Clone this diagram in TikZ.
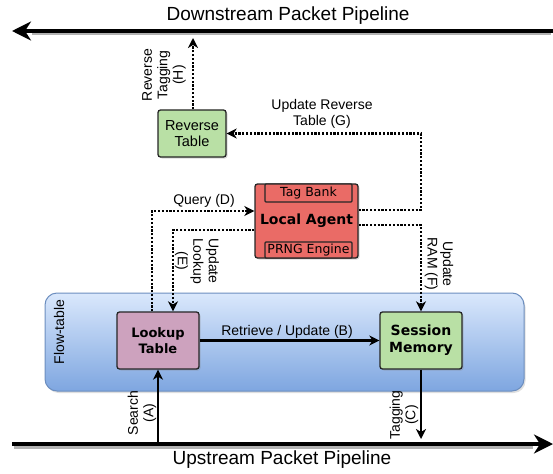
\documentclass[tikz,border=0pt]{standalone}
\usepackage{fontspec}
\setmainfont{Liberation Sans}
\newfontfamily\djv{DejaVu Sans}
\usetikzlibrary{arrows.meta,shadows,calc}
\definecolor{gfill}{HTML}{B9E0A5}
\definecolor{rfill}{HTML}{EA6B66}
\definecolor{pfill}{HTML}{CDA2BE}
\definecolor{btop}{HTML}{DAE8FC}
\definecolor{bbot}{HTML}{7EA6E0}
\definecolor{bline}{HTML}{6C8EBF}
\begin{document}
\begin{tikzpicture}[x=1pt,y=-1pt,
  box/.style={draw=black!85, line width=1.3pt, rounded corners=2.5pt, align=center, inner sep=0pt,
    drop shadow={opacity=0.3,shadow xshift=1.5pt,shadow yshift=-1.5pt}},
  subbox/.style={draw=black!85, line width=1.3pt, rounded corners=1pt, fill=rfill, inner sep=0pt,
    minimum width=87pt, font=\djv\fontsize{12.5}{14}\selectfont},
  lbl/.style={font=\fontsize{14}{15.5}\selectfont, align=center, inner sep=0pt},
  title/.style={font=\fontsize{19}{22}\selectfont, inner sep=0pt},
  dots/.style={line width=2.2pt, dash pattern=on 2.2pt off 1.6pt,
    -{Stealth[length=10pt,width=10pt,inset=3pt]}},
  solidarr/.style={line width=2.4pt, -{Stealth[length=10pt,width=10pt,inset=3pt]}},
  pipe/.style={line width=4pt, -{Stealth[length=19pt,width=19pt,inset=6pt]}},
  pipeshadow/.style={line width=3pt, color=black!30},
]
\useasboundingbox (0,0) rectangle (553,473);

% flow-table container
\node[draw=bline, line width=1pt, rounded corners=12pt, top color=btop, bottom color=bbot,
  minimum width=479pt, minimum height=98pt, inner sep=0pt,
  drop shadow={opacity=0.25,shadow xshift=1.5pt,shadow yshift=-2pt}] (flow) at (284.5,342) {};
\node[lbl, rotate=90] (flowlbl) at (59,332) {Flow-table};

% pipelines
\coordinate (dsR) at (553,31);
\coordinate (dsL) at (12,31);
\coordinate (usL) at (12,444);
\coordinate (usR) at (553,444);
\draw[pipeshadow] ([yshift=-3pt,xshift=-2pt]dsR) -- ([yshift=-3pt,xshift=20pt]dsL);
\draw[pipe] (dsR) -- (dsL);
\draw[pipeshadow] ([yshift=-3pt,xshift=2pt]usL) -- ([yshift=-3pt,xshift=-20pt]usR);
\draw[pipe] (usL) -- (usR);
\node[title] (dstitle) at (288,16) {Downstream Packet Pipeline};
\node[title] (ustitle) at (282,460) {Upstream Packet Pipeline};

% boxes
\node[box, fill=gfill, minimum width=68pt, minimum height=47pt,
  font=\fontsize{14.5}{16}\selectfont] (rev) at (192,133.5) {Reverse\\Table};
\node[box, fill=rfill, minimum width=103pt, minimum height=74pt,
  font=\djv\bfseries\fontsize{14}{16}\selectfont] (agent) at (306.5,221) {Local Agent};
\node[subbox, minimum height=18pt, anchor=north] (tag) at ([xshift=2pt]agent.north) {Tag Bank};
\node[subbox, minimum height=16pt, anchor=south] (prng) at ([xshift=2pt]agent.south) {PRNG Engine};
\node[box, fill=pfill, minimum width=82pt, minimum height=57pt,
  font=\djv\bfseries\fontsize{13}{16.5}\selectfont] (lookup) at (158,340.5) {Lookup\\Table};
\node[box, fill=gfill, minimum width=82pt, minimum height=57pt,
  font=\djv\bfseries\fontsize{14}{17}\selectfont] (session) at (421,340.5) {Session\\Memory};

% connectors
\coordinate (htip) at (193,38);
\draw[dots] ([xshift=1pt]rev.north) -- (htip);
\node[lbl, rotate=90] (hlbl) at (164,75) {Reverse\\Tagging\\(H)};

\draw[dots] ([xshift=-6pt]lookup.north) |- ([yshift=10pt]agent.west);
\node[lbl] (dlbl) at (204,201) {Query (D)};

\draw[dots] ([yshift=-9pt]agent.west) -| ([xshift=15pt]lookup.north);
\node[lbl, rotate=-90] (elbl) at (197,261) {Update\\Lookup\\(E)};

\draw[dots] ([yshift=11pt]agent.east) -| (session.north |- rev.east) -- (rev.east);
\node[lbl] (glbl) at (322,114) {Update Reverse\\Table (G)};

\draw[dots] ([yshift=-4pt]agent.east) -| (session.north);
\node[lbl, rotate=-90] (flbl) at (439,264) {Update\\RAM (F)};

\draw[solidarr] (lookup.east) -- (session.west);
\node[lbl] (blbl) at (287,332) {Retrieve / Update (B)};

\draw[solidarr] ([yshift=2pt]lookup.south |- usL) -- (lookup.south);
\node[lbl, rotate=90] (albl) at (142,413) {Search\\(A)};

\coordinate (ctip) at (421,439);
\draw[solidarr] (session.south) -- (ctip);
\node[lbl, rotate=90] (clbl) at (404,415) {Tagging\\(C)};
\end{tikzpicture}
\end{document}
